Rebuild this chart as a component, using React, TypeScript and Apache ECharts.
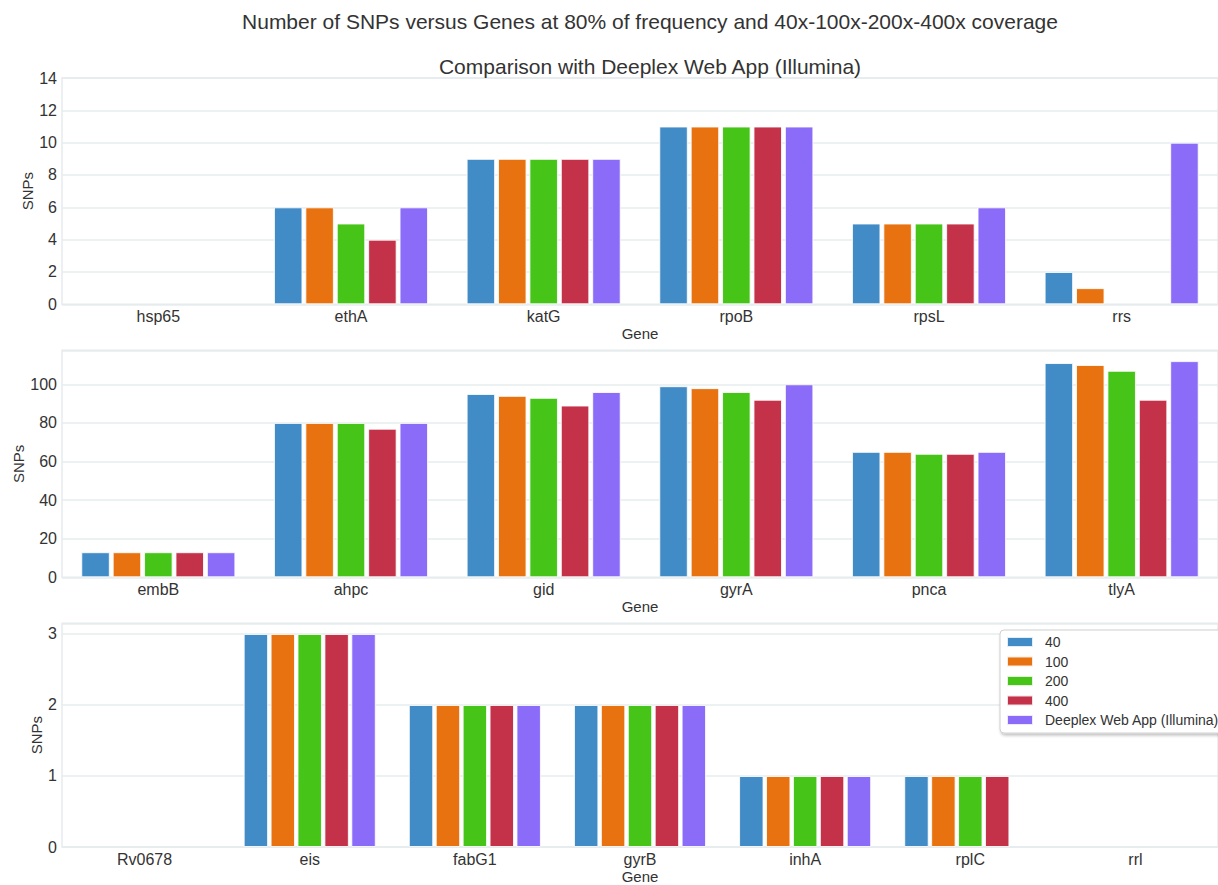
import React, { useEffect, useRef } from "react";
import * as echarts from "echarts";

// Panel 1
const genes1 = ["hsp65", "ethA", "katG", "rpoB", "rpsL", "rrs"];
const p1_40 = [0, 6, 9, 11, 5, 2];
const p1_100 = [0, 6, 9, 11, 5, 1];
const p1_200 = [0, 5, 9, 11, 5, 0];
const p1_400 = [0, 4, 9, 11, 5, 0];
const p1_deeplex = [0, 6, 9, 11, 6, 10];

// Panel 2
const genes2 = ["embB", "ahpc", "gid", "gyrA", "pnca", "tlyA"];
const p2_40 = [13, 80, 95, 99, 65, 111];
const p2_100 = [13, 80, 94, 98, 65, 110];
const p2_200 = [13, 80, 93, 96, 64, 107];
const p2_400 = [13, 77, 89, 92, 64, 92];
const p2_deeplex = [13, 80, 96, 100, 65, 112];

// Panel 3
const genes3 = ["Rv0678", "eis", "fabG1", "gyrB", "inhA", "rplC", "rrl"];
const p3_40 = [0, 3, 2, 2, 1, 1, 0];
const p3_100 = [0, 3, 2, 2, 1, 1, 0];
const p3_200 = [0, 3, 2, 2, 1, 1, 0];
const p3_400 = [0, 3, 2, 2, 1, 1, 0];
const p3_deeplex = [0, 3, 2, 2, 1, 0, 0];

const seriesNames = ["40", "100", "200", "400", "Deeplex Web App (Illumina)"];
const colors = ["#418BC6", "#E87210", "#46C418", "#C4324A", "#8A6CF8"];

const mainTitle =
  "Number of SNPs versus Genes at 80% of frequency and 40x-100x-200x-400x coverage";
const subTitle = "Comparison with Deeplex Web App (Illumina)";

const FONT = "'Liberation Sans', Arial, sans-serif";
const TXT = "#333333";
const GRIDC = "#E6ECEE";

export default function App() {
  const ref = useRef<HTMLDivElement>(null);
  useEffect(() => {
    if (!ref.current) return;
    const chart = echarts.init(ref.current, undefined, { renderer: "svg" });
    const panels = [
      { genes: genes1, data: [p1_40, p1_100, p1_200, p1_400, p1_deeplex], max: 14, interval: 2, nameGapY: 27 },
      { genes: genes2, data: [p2_40, p2_100, p2_200, p2_400, p2_deeplex], max: 117.6, interval: 20, nameGapY: 36 },
      { genes: genes3, data: [p3_40, p3_100, p3_200, p3_400, p3_deeplex], max: 3.15, interval: 1, nameGapY: 18 },
    ];
    const grids = [
      { left: 62, right: -11, top: 78, height: 226.3 },
      { left: 62, right: -11, top: 350.3, height: 227 },
      { left: 62, right: -11, top: 623.3, height: 226.7 },
    ].map((g) => ({ ...g, show: true, borderColor: GRIDC, borderWidth: 1.5, backgroundColor: "#fff" }));

    const xAxis = panels.map((p, i) => ({
      type: "category",
      gridIndex: i,
      data: p.genes,
      name: "Gene",
      nameLocation: "middle",
      nameGap: 22,
      nameMoveOverlap: false,
      nameTextStyle: { fontFamily: FONT, fontSize: 15, color: TXT },
      axisLine: { show: false },
      axisTick: { show: false },
      axisLabel: { fontFamily: FONT, fontSize: 16, color: TXT, margin: 4 },
      splitLine: { show: false },
    }));
    const yAxis = panels.map((p, i) => ({
      type: "value",
      gridIndex: i,
      min: 0,
      max: p.max,
      interval: p.interval,
      name: "SNPs",
      nameLocation: "middle",
      nameGap: p.nameGapY,
      nameMoveOverlap: false,
      nameTextStyle: { fontFamily: FONT, fontSize: 15, color: TXT },
      axisLine: { show: false },
      axisTick: { show: false },
      axisLabel: { fontFamily: FONT, fontSize: 16, color: TXT, margin: 5, showMaxLabel: p.max === 14 },
      splitLine: { show: true, lineStyle: { color: GRIDC, width: 1.5 } },
    }));
    const series: any[] = [];
    panels.forEach((p, i) => {
      p.data.forEach((vals, k) => {
        series.push({
          type: "bar",
          name: seriesNames[k],
          xAxisIndex: i,
          yAxisIndex: i,
          data: vals.map((v) => (v === 0 ? { value: v, itemStyle: { borderWidth: 0, opacity: 0 } } : v)),
          barGap: "10%",
          barCategoryGap: "20%",
          itemStyle: { color: colors[k], borderColor: "rgba(255,255,255,0.85)", borderWidth: 1 },
        });
      });
    });

    chart.setOption({
      animation: false,
      backgroundColor: "#fff",
      color: colors,
      title: [
        {
          text: mainTitle,
          left: 645,
          top: 6,
          textAlign: "center",
          textStyle: { fontFamily: FONT, fontSize: 21, fontWeight: "normal", color: TXT },
        },
        {
          text: subTitle,
          left: 645,
          top: 51,
          textAlign: "center",
          textStyle: { fontFamily: FONT, fontSize: 21, fontWeight: "normal", color: TXT },
        },
      ],
      legend: {
        data: seriesNames,
        orient: "vertical",
        left: 1000,
        top: 630,
        icon: "rect",
        itemWidth: 26,
        itemHeight: 10,
        itemGap: 5.5,
        padding: [5, 30, 6, 6],
        backgroundColor: "#fff",
        borderColor: "#D0D0D0",
        borderWidth: 1,
        borderRadius: 4,
        shadowBlur: 3,
        shadowColor: "rgba(0,0,0,0.25)",
        shadowOffsetX: 1,
        shadowOffsetY: 2,
        textStyle: { fontFamily: FONT, fontSize: 14, color: TXT, padding: [0, 0, 0, 7] },
      },
      grid: grids,
      xAxis,
      yAxis,
      series,
    });
    return () => chart.dispose();
  }, []);
  return (
    <div
      ref={ref}
      style={{ position: "absolute", left: 0, top: 0, width: 1218, height: 885 }}
    />
  );
}
